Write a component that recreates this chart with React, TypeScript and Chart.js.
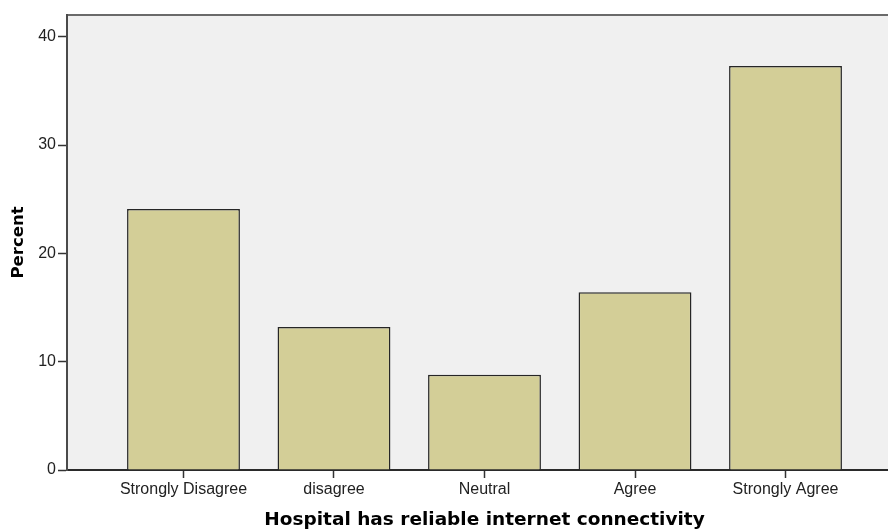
import React, { useEffect, useRef } from "react";
import { Chart, registerables } from "chart.js";

Chart.register(...registerables);

const categories = ["Strongly Disagree", "disagree", "Neutral", "Agree", "Strongly Agree"];
const percents = [24.1, 13.2, 8.8, 16.4, 37.3];
const yTicks = [0, 10, 20, 30, 40];
const xTitle = "Hospital has reliable internet connectivity";
const yTitle = "Percent";

const plotBg = {
  id: "plotBg",
  beforeDraw(chart: any) {
    const { ctx, chartArea } = chart;
    ctx.save();
    ctx.fillStyle = "#f0f0f0";
    ctx.fillRect(chartArea.left, chartArea.top, chartArea.right - chartArea.left, chartArea.bottom - chartArea.top);
    ctx.strokeStyle = "#6a6a6a";
    ctx.lineWidth = 2;
    ctx.beginPath();
    ctx.moveTo(chartArea.left, chartArea.top);
    ctx.lineTo(chartArea.right, chartArea.top);
    ctx.stroke();
    ctx.restore();
  },
  afterDraw(chart: any) {
    const { ctx } = chart;
    const xs = chart.scales.x;
    // the original plot frame is symmetric around the middle category
    const cx = xs.getPixelForValue((categories.length - 1) / 2);
    ctx.save();
    ctx.fillStyle = "#000";
    ctx.font = "bold 18.5px 'DejaVu Sans', sans-serif";
    ctx.textAlign = "center";
    ctx.textBaseline = "alphabetic";
    ctx.fillText(xTitle, cx, chart.height - 4.5);
    ctx.restore();
  },
};

export default function App() {
  const ref = useRef<HTMLCanvasElement | null>(null);
  useEffect(() => {
    document.body.style.margin = "0";
    const chart = new Chart(ref.current as HTMLCanvasElement, {
      type: "bar",
      data: {
        datasets: [
          {
            data: percents.map((v, i) => ({ x: i, y: v })),
            backgroundColor: "#d3ce97",
            borderColor: "#262626",
            borderWidth: 1.5,
            categoryPercentage: 1,
            barPercentage: 0.75,
          },
        ],
      },
      options: {
        animation: false,
        responsive: false,
        maintainAspectRatio: false,
        layout: { padding: { top: 15, right: 0, left: 0, bottom: 0 } },
        plugins: { legend: { display: false }, tooltip: { enabled: false } },
        scales: {
          x: {
            type: "linear",
            offset: false,
            min: -0.774,
            max: 4.681,
            afterBuildTicks: (scale: any) => {
              scale.ticks = categories.map((_, i) => ({ value: i }));
            },
            afterFit: (scale: any) => {
              scale.height = 59;
            },
            grid: {
              offset: false,
              drawOnChartArea: false,
              drawTicks: true,
              tickLength: 8,
              tickColor: "#333",
              tickWidth: 1.5,
            },
            border: { color: "#2a2a2a", width: 2 },
            ticks: {
              color: "#222",
              font: { family: "Liberation Sans, Arial, sans-serif", size: 16 },
              padding: 2,
              maxRotation: 0,
              autoSkip: false,
              callback: (v: any) => categories[v as number] ?? "",
            },
            title: { display: false },
          },
          y: {
            min: 0,
            max: 42,
            afterBuildTicks: (scale: any) => {
              scale.ticks = yTicks.map((v) => ({ value: v }));
            },
            afterFit: (scale: any) => {
              scale.width = 67;
            },
            grid: {
              drawOnChartArea: false,
              drawTicks: true,
              tickLength: 9,
              tickColor: "#333",
              tickWidth: 1.5,
            },
            border: { color: "#4a4a4a", width: 2 },
            ticks: {
              color: "#222",
              font: { family: "Liberation Sans, Arial, sans-serif", size: 16 },
              padding: 2,
            },
            title: {
              display: true,
              text: yTitle,
              color: "#000",
              font: { family: "DejaVu Sans, sans-serif", size: 16.5, weight: "bold" },
              padding: { top: 9, bottom: 0 },
            },
          },
        },
      },
      plugins: [plotBg],
    });
    return () => chart.destroy();
  }, []);
  return (
    <div style={{ position: "absolute", left: 0, top: 0, width: 888, height: 529, background: "#fff" }}>
      <canvas ref={ref} width={888} height={529} style={{ width: 888, height: 529 }} />
    </div>
  );
}
